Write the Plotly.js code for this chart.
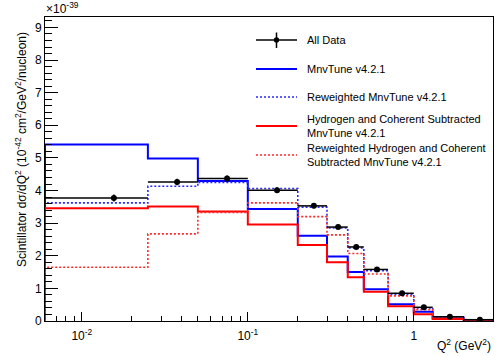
<!DOCTYPE html>
<html>
<head>
<meta charset="utf-8">
<script src="https://cdn.plot.ly/plotly-3.0.1.min.js"></script>
<style>html,body{margin:0;padding:0;background:#fff;}</style>
</head>
<body>
<div id="chart" style="width:497px;height:356px;"></div>
<script>
// ---- data (values in units of 1e-39) ----
const binEdges = [0.006, 0.025, 0.05, 0.1, 0.2, 0.3, 0.4, 0.5, 0.7, 1.0, 1.3, 2.0, 3.0];
const dataQ2 = [0.0156, 0.0375, 0.075, 0.15, 0.25, 0.35, 0.45, 0.6, 0.85, 1.15, 1.65, 2.5];
const allData = [3.77, 4.26, 4.37, 4.01, 3.53, 2.88, 2.27, 1.58, 0.85, 0.42, 0.13, 0.04];
const allDataErr = [0.11, 0.10, 0.09, 0.08, 0.07, 0.06, 0.05, 0.04, 0.03, 0.03, 0.02, 0.01];
const mnvTune = [5.41, 4.98, 4.29, 3.43, 2.61, 1.98, 1.50, 0.97, 0.51, 0.28, 0.08, 0.02];
const mnvTuneRw = [3.62, 4.13, 4.25, 4.06, 3.49, 2.85, 2.24, 1.54, 0.82, 0.40, 0.12, 0.03];
const hcSub = [3.46, 3.51, 3.36, 2.96, 2.33, 1.80, 1.34, 0.90, 0.45, 0.21, 0.06, 0.01];
const hcSubRw = [1.65, 2.67, 3.33, 3.62, 3.20, 2.64, 2.07, 1.44, 0.77, 0.35, 0.11, 0.02];
const xMajorTicks = [0.01, 0.1, 1];
const xMajorLabels = ['10<sup>-2</sup>', '10<sup>-1</sup>', '1'];
const xMinorTicks = [0.007, 0.008, 0.009, 0.02, 0.03, 0.04, 0.05, 0.06, 0.07, 0.08, 0.09,
                     0.2, 0.3, 0.4, 0.5, 0.6, 0.7, 0.8, 0.9, 2, 3];
const legendLabels = ['All Data', 'MnvTune v4.2.1', 'Reweighted MnvTune v4.2.1',
  'Hydrogen and Coherent Subtracted<br>MnvTune v4.2.1',
  'Reweighted Hydrogen and Coherent<br>Subtracted MnvTune v4.2.1'];

// ---- helpers ----
const DOT = '2px,2px';
function stepTrace(vals, color, dash, width) {
  const x = [binEdges[0]], y = [0];
  for (let i = 0; i < vals.length; i++) { x.push(binEdges[i]); y.push(vals[i]); }
  x.push(binEdges[binEdges.length - 1]); y.push(vals[vals.length - 1]);
  x.push(binEdges[binEdges.length - 1]); y.push(0);
  return {x, y, type: 'scatter', mode: 'lines', line: {shape: 'hv', color, dash, width},
          showlegend: false, hoverinfo: 'skip', cliponaxis: true};
}
const errPlus = dataQ2.map((q, i) => binEdges[i + 1] - q);
const errMinus = dataQ2.map((q, i) => q - binEdges[i]);

const traces = [
  stepTrace(mnvTune, '#0000ff', 'solid', 2),
  stepTrace(hcSub, '#ff0000', 'solid', 2),
  stepTrace(mnvTuneRw, '#2a2aff', DOT, 1.6),
  stepTrace(hcSubRw, '#ff2a2a', DOT, 1.6),
  {x: dataQ2, y: allData, type: 'scatter', mode: 'markers',
   marker: {color: 'black', size: 6, symbol: 'circle'},
   error_y: {type: 'data', array: allDataErr, color: 'black', thickness: 1.5, width: 0},
   error_x: {type: 'data', array: errPlus, arrayminus: errMinus, color: 'black', thickness: 1.5, width: 0},
   showlegend: false, hoverinfo: 'skip'}
];

// pixel -> paper conversion for legend/labels
const L = 45, R = 493, T = 17, B = 321;
const px = v => (v - L) / (R - L);
const py = v => (B - v) / (B - T);

const font = {family: 'Liberation Sans, Arial, sans-serif', color: 'black'};
const annotations = [
  {text: '×10<sup>-39</sup>', x: px(44), y: py(8), xref: 'paper', yref: 'paper',
   xanchor: 'left', yanchor: 'middle', showarrow: false, font: {...font, size: 12}},
  {text: 'Q<sup>2</sup> (GeV<sup>2</sup>)', x: px(493), y: py(345), xref: 'paper', yref: 'paper',
   xanchor: 'right', yanchor: 'middle', showarrow: false, font: {...font, size: 12}},
  {text: 'Scintillator dσ/dQ<sup>2</sup> (10<sup>-42</sup> cm<sup>2</sup>/GeV<sup>2</sup>/nucleon)',
   x: px(21), y: py(150), xref: 'paper', yref: 'paper', textangle: -90,
   xanchor: 'center', yanchor: 'middle', showarrow: false, font: {...font, size: 12}}
];
const rowY = [40, 69, 97, 126, 155];
const rowStyles = [
  {color: 'black', dash: 'solid', width: 1.5},
  {color: '#0000ff', dash: 'solid', width: 2},
  {color: '#2a2aff', dash: DOT, width: 1.6},
  {color: '#ff0000', dash: 'solid', width: 2},
  {color: '#ff2a2a', dash: DOT, width: 1.6}
];
const shapes = [];
legendLabels.forEach((lab, i) => {
  annotations.push({text: lab, x: px(305), y: py(rowY[i]), xref: 'paper', yref: 'paper',
    xanchor: 'left', yanchor: 'middle', align: 'left', showarrow: false,
    font: {...font, size: 11}});
  shapes.push({type: 'line', xref: 'paper', yref: 'paper', x0: px(256), x1: px(297),
    y0: py(rowY[i]), y1: py(rowY[i]), line: rowStyles[i]});
});
shapes.push({type: 'line', xref: 'paper', yref: 'paper', x0: px(276.5), x1: px(276.5),
  y0: py(32.5), y1: py(48), line: {color: 'black', width: 1.5}});
shapes.push({type: 'circle', xref: 'paper', yref: 'paper', x0: px(273.8), x1: px(279.2),
  y0: py(37.3), y1: py(42.7), fillcolor: 'black', line: {color: 'black', width: 0}});

const layout = {
  width: 497, height: 356,
  margin: {l: L, r: 497 - R, t: T, b: 356 - B, pad: 0},
  paper_bgcolor: 'white', plot_bgcolor: 'white',
  font: {...font, size: 12},
  showlegend: false,
  xaxis: {
    type: 'log', range: [Math.log10(binEdges[0]), Math.log10(binEdges[binEdges.length - 1])],
    showgrid: false, zeroline: false, showline: true, linecolor: 'black', linewidth: 1, mirror: true,
    ticks: 'inside', ticklen: 9, tickwidth: 1, tickcolor: 'black',
    tickmode: 'array', tickvals: xMajorTicks, ticktext: xMajorLabels,
    tickfont: {...font, size: 12}, ticklabelstandoff: 4,
    minor: {tickmode: 'array', tickvals: xMinorTicks, ticks: 'inside', ticklen: 5,
            tickwidth: 1, tickcolor: 'black', showgrid: false}
  },
  yaxis: {
    range: [0, 9.32], showgrid: false, zeroline: false, showline: true, linecolor: 'black',
    linewidth: 1, mirror: true, ticks: 'inside', ticklen: 13, tickwidth: 1, tickcolor: 'black',
    dtick: 1, tick0: 0, tickfont: {...font, size: 12},
    minor: {dtick: 0.2, tick0: 0, ticks: 'inside', ticklen: 7, tickwidth: 1, tickcolor: 'black', showgrid: false}
  },
  annotations, shapes
};

Plotly.newPlot('chart', traces, layout, {staticPlot: true, displayModeBar: false});
</script>
</body>
</html>
